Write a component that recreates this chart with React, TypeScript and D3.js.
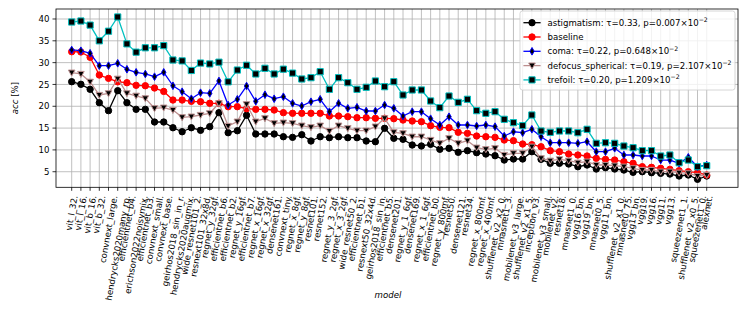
import { useEffect, useRef } from 'react'
import * as d3 from 'd3'

const models = [
  'vit_l_32', 'vit_l_16', 'vit_b_16', 'vit_b_32', 'convnext_large', 'hendrycks2020many_rp',
  'efficientnet_b4', 'erichson2022noisymix', 'efficientnet_b3', 'convnext_small', 'convnext_base',
  'geirhos2018_sin_in_r', 'hendrycks2020augmix', 'wide_resnet101_2', 'resnext101_32x8d',
  'regnet_y_32gf', 'efficientnet_b6', 'efficientnet_b2', 'regnet_y_16gf', 'efficientnet_b7',
  'regnet_x_16gf', 'regnet_x_32gf', 'densenet161', 'convnext_tiny', 'regnet_x_8gf', 'regnet_y_8gf',
  'resnet101', 'resnet152', 'regnet_y_3_2gf', 'regnet_x_3_2gf', 'wide_resnet50_2', 'efficientnet_b1',
  'resnext50_32x4d', 'geirhos2018_sin_in', 'efficientnet_b5', 'densenet201', 'regnet_y_1_6gf',
  'densenet169', 'regnet_x_1_6gf', 'efficientnet_b0', 'regnet_y_800mf', 'resnet50', 'densenet121',
  'resnet34', 'regnet_x_800mf', 'regnet_x_400mf', 'shufflenet_v2_x2_0', 'mnasnet1_3',
  'mobilenet_v3_large', 'shufflenet_v2_x1_5', 'inception_v3', 'mobilenet_v3_small', 'mobilenet_v2',
  'resnet18', 'mnasnet1_0', 'vgg16_bn', 'vgg19_bn', 'mnasnet0_5', 'vgg11_bn', 'shufflenet_v2_x1_0',
  'mnasnet0_75', 'vgg13_bn', 'vgg19', 'vgg16', 'vgg11', 'vgg13', 'squeezenet1_1',
  'shufflenet_v2_x0_5', 'squeezenet1_0', 'alexnet',
]

const astigmatism = [
  25.63, 25.03, 23.89, 20.82, 18.99, 23.57, 20.82, 19.3, 19.3, 16.39, 16.39, 15.08, 14.16, 15.08,
  14.49, 15.33, 18.53, 13.94, 14.39, 17.93, 13.64, 13.64, 13.64, 13.02, 12.88, 13.48,
  12.04, 13.02, 12.8, 13.02, 12.8, 12.8, 12.04, 11.88, 14.95, 12.66, 12.43, 11.12, 10.9, 11.28,
  10.14, 10.37, 9.45, 9.82, 9.36, 9.06, 8.67, 7.68, 7.91, 7.91,
  9.59, 7.84, 6.93, 6.93, 6.77, 6.15, 6.54, 5.62, 5.92, 5.62, 5.39, 4.86, 5.0, 4.77, 4.63, 4.47,
  4.02, 4.25, 3.26, 4.02,
]
const baseline = [
  32.5, 32.44, 31.22, 27.16, 26.4, 25.6, 25.4, 24.8, 24.7, 24.18, 23.4, 21.43, 21.43, 21.13, 21.04,
  20.68, 20.68, 19.9, 19.9, 19.44, 19.3, 19.3, 19.14, 18.53, 18.39, 18.39,
  18.39, 18.39, 17.77, 17.77, 17.61, 17.38, 17.38, 17.24, 17.24, 17.15, 16.85, 16.62, 16.46, 15.55,
  15.18, 15.09, 14.03, 13.8, 13.18, 13.02, 12.88, 12.27, 12.11, 11.35,
  11.2, 10.73, 9.82, 9.59, 9.06, 8.83, 8.6, 8.07, 7.84, 7.68, 7.3, 6.93, 6.15, 6.01, 5.78, 5.55,
  5.23, 5.0, 4.77, 4.25,
]
const coma = [
  32.9, 32.73, 32.14, 29.3, 29.3, 29.85, 28.47, 27.78, 27.4, 26.78, 27.78, 24.7, 23.34, 21.73,
  23.11, 22.96, 25.8, 20.29, 21.6, 24.64, 21.14, 22.65, 21.73, 22.19, 20.67, 20.06,
  21.05, 21.6, 18.76, 20.68, 19.53, 19.76, 18.91, 18.91, 20.29, 19.53, 17.77, 18.76, 18.76, 17.15,
  15.71, 17.61, 15.71, 15.71, 15.48, 15.71, 15.33, 13.18, 14.16, 13.94,
  14.72, 13.02, 11.65, 11.65, 11.65, 11.51, 11.88, 9.59, 9.59, 10.37, 8.83, 8.83, 8.6, 8.6, 7.68,
  7.68, 6.93, 8.3, 6.15, 6.54,
]
const defocusSpherical = [
  27.7, 27.4, 25.6, 22.58, 22.96, 26.3, 22.96, 22.4, 21.8, 19.53, 19.68, 19.14, 17.47, 17.62, 18.0,
  18.39, 20.68, 15.48, 16.47, 20.45, 16.47, 17.24, 16.1, 16.24, 16.1, 15.55,
  15.18, 15.55, 14.33, 15.55, 14.95, 14.4, 14.4, 15.33, 17.24, 14.03, 13.8, 13.02, 13.02, 12.27,
  11.51, 12.66, 11.51, 12.11, 10.5, 10.14, 10.37, 8.83, 9.22, 9.22,
  10.73, 8.07, 7.52, 7.84, 7.52, 7.06, 7.3, 6.54, 6.54, 6.38, 6.15, 5.78, 5.39, 5.39, 5.0, 5.0,
  4.77, 4.63, 4.02, 4.25,
]
const trefoil = [
  39.31, 39.54, 38.6, 35.0, 37.2, 40.46, 34.3, 32.4, 33.4, 33.4, 33.9, 30.6, 30.4, 28.2, 29.9,
  29.7, 30.1, 25.6, 28.3, 29.4, 27.4, 28.7, 27.4, 28.5, 27.6, 26.25,
  26.55, 27.92, 23.89, 26.55, 25.4, 23.89, 24.35, 25.79, 24.48, 25.63, 22.58, 23.73, 23.73, 21.21,
  19.68, 22.35, 20.9, 21.6, 18.99, 18.39, 18.76, 17.01, 16.24, 15.55,
  18.0, 14.33, 14.03, 14.33, 14.33, 13.94, 14.72, 11.51, 11.65, 11.51, 10.89, 10.5, 9.82, 9.82,
  8.6, 8.83, 7.06, 7.68, 6.15, 6.38,
]

const yTicks = [5, 10, 15, 20, 25, 30, 35, 40]

const legendLabels = [
  ['astigmatism: τ=0.33, p=0.007×10', '−2'],
  ['baseline', ''],
  ['coma: τ=0.22, p=0.648×10', '−2'],
  ['defocus_spherical: τ=0.19, p=2.107×10', '−2'],
  ['trefoil: τ=0.20, p=1.209×10', '−2'],
]

const FONT = "'DejaVu Sans', sans-serif"
const FS = 8.6

const markerPaths: Record<string, string> = {
  circle: d3.symbol(d3.symbolCircle, 32)()!,
  square: 'M-3.1,-3.1h6.2v6.2h-6.2z',
  tri: 'M-3.3,-2.6L3.3,-2.6L0,3.4Z',
  diamond: 'M0,-3.8L2.2,0L0,3.8L-2.2,0Z',
}

const series = [
  { values: astigmatism, color: '#000000', marker: 'circle', face: '#000000' },
  { values: baseline, color: '#ff0000', marker: 'circle', face: '#ff0000' },
  { values: coma, color: '#0000ff', marker: 'diamond', face: '#000000' },
  { values: defocusSpherical, color: '#bc8f8f', marker: 'tri', face: '#000000' },
  { values: trefoil, color: '#00bfbf', marker: 'square', face: '#000000' },
]

export default function App() {
  const svgRef = useRef<SVGSVGElement>(null)

  useEffect(() => {
    if (!svgRef.current) return
    const svg = d3.select(svgRef.current)
    svg.selectAll('*').remove()

    const box = { left: 56, right: 738, top: 9, bottom: 187.3 }
    const x = d3.scaleLinear().domain([-1.706, 72.4]).range([box.left, box.right])
    const y = d3.scaleLinear().domain([1.43, 42.29]).range([box.bottom, box.top])

    svg.append('rect').attr('width', 747).attr('height', 312).attr('fill', '#fff')

    // grid
    const grid = svg.append('g').attr('stroke', '#b0b0b0').attr('stroke-width', 0.8)
    models.forEach((_m, i) => {
      grid.append('line')
        .attr('x1', x(i)).attr('x2', x(i))
        .attr('y1', box.top).attr('y2', box.bottom)
    })
    yTicks.forEach(t => {
      grid.append('line')
        .attr('x1', box.left).attr('x2', box.right)
        .attr('y1', y(t)).attr('y2', y(t))
    })

    // series
    const line = d3.line<number>().x((_d, i) => x(i)).y(d => y(d))
    series.forEach(s => {
      const g = svg.append('g')
      g.append('path')
        .datum(s.values)
        .attr('fill', 'none')
        .attr('stroke', s.color)
        .attr('stroke-width', 1.3)
        .attr('stroke-linejoin', 'round')
        .attr('d', line)
      s.values.forEach((v, i) => {
        g.append('path')
          .attr('d', markerPaths[s.marker])
          .attr('transform', `translate(${x(i)},${y(v)})`)
          .attr('fill', s.face)
          .attr('stroke', s.color)
          .attr('stroke-width', 1)
      })
    })

    // spines
    svg.append('rect')
      .attr('x', box.left).attr('y', box.top)
      .attr('width', box.right - box.left).attr('height', box.bottom - box.top)
      .attr('fill', 'none').attr('stroke', '#000').attr('stroke-width', 0.8)

    // y ticks
    yTicks.forEach(t => {
      svg.append('line')
        .attr('x1', box.left - 3.5).attr('x2', box.left)
        .attr('y1', y(t)).attr('y2', y(t))
        .attr('stroke', '#000').attr('stroke-width', 0.8)
      svg.append('text')
        .attr('x', box.left - 6.5).attr('y', y(t) + 3.1)
        .attr('text-anchor', 'end')
        .attr('font-family', FONT).attr('font-size', FS)
        .text(t)
    })

    // x ticks + rotated labels
    models.forEach((m, i) => {
      svg.append('line')
        .attr('x1', x(i)).attr('x2', x(i))
        .attr('y1', box.bottom).attr('y2', box.bottom + 3.5)
        .attr('stroke', '#000').attr('stroke-width', 0.8)
      const t = svg.append('text')
        .attr('text-anchor', 'end')
        .attr('font-family', FONT).attr('font-size', FS)
        .text(`${m}.`)
      const L = (t.node() as SVGTextElement).getComputedTextLength()
      const px = x(i) + 0.087 * L + 2.9
      t.attr('transform', `translate(${px},196) rotate(-80)`)
    })

    // axis labels
    svg.append('text')
      .attr('x', 388).attr('y', 298)
      .attr('text-anchor', 'middle')
      .attr('font-family', FONT).attr('font-size', FS).attr('font-style', 'italic')
      .text('model')
    const yl = svg.append('text')
      .attr('transform', `translate(18,${(box.top + box.bottom) / 2}) rotate(-90)`)
      .attr('text-anchor', 'middle')
      .attr('font-family', FONT).attr('font-size', FS)
    yl.append('tspan').attr('font-style', 'italic').text('acc')
    yl.append('tspan').text(' [%]')

    // legend
    const lg = svg.append('g')
    const frame = lg.append('rect')
    const rowH = 14.3
    let maxW = 0
    const texts = legendLabels.map(([main, sup], k) => {
      const t = lg.append('text')
        .attr('font-family', FONT).attr('font-size', FS)
      t.append('tspan').text(main)
      if (sup) t.append('tspan').attr('font-size', 6.2).attr('dy', -3.6).text(sup)
      const w = (t.node() as SVGTextElement).getComputedTextLength()
      maxW = Math.max(maxW, w)
      return { t, k }
    })
    const lgRight = 735
    const lgTop = 11
    const lgW = maxW + 3.6 * FS
    const lgLeft = lgRight - lgW
    const lgH = legendLabels.length * rowH + 7.5
    frame
      .attr('x', lgLeft).attr('y', lgTop)
      .attr('width', lgW).attr('height', lgH)
      .attr('rx', 2.5)
      .attr('fill', '#fff').attr('fill-opacity', 0.8)
      .attr('stroke', '#cccccc').attr('stroke-width', 0.8)
    texts.forEach(({ t, k }) => {
      const cy = lgTop + 11.7 + k * rowH
      const hx = lgLeft + 0.4 * FS
      const s = series[k]
      lg.append('line')
        .attr('x1', hx).attr('x2', hx + 2 * FS)
        .attr('y1', cy).attr('y2', cy)
        .attr('stroke', s.color).attr('stroke-width', 1.3)
      lg.append('path')
        .attr('d', markerPaths[s.marker])
        .attr('transform', `translate(${hx + FS},${cy})`)
        .attr('fill', s.face).attr('stroke', s.color).attr('stroke-width', 1)
      t.attr('x', hx + 2.8 * FS).attr('y', cy + 3.1)
    })
  }, [])

  return (
    <svg
      ref={svgRef}
      width={747}
      height={312}
      style={{ position: 'fixed', left: 0, top: 0, display: 'block' }}
    />
  )
}
